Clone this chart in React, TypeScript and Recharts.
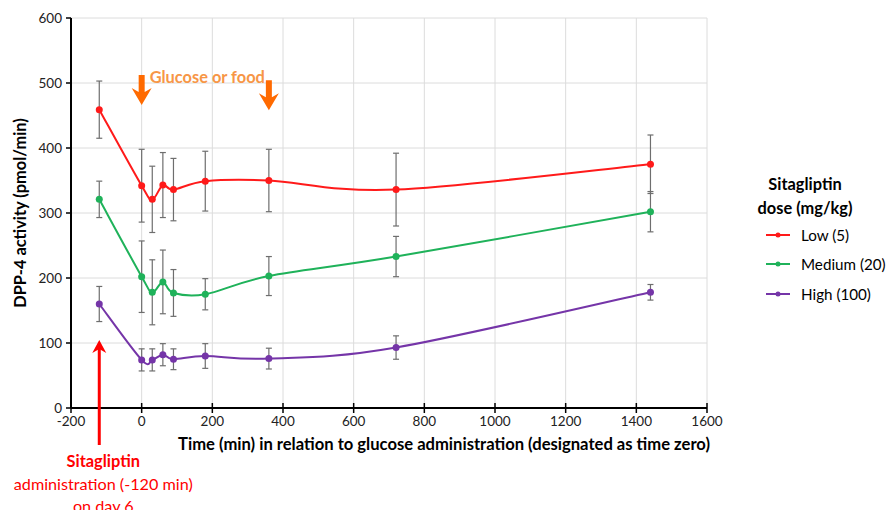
import React from 'react';
import { LineChart, Line, XAxis, YAxis, CartesianGrid, ErrorBar, ReferenceDot } from 'recharts';

// sampling times (min) relative to glucose administration
const times = [-120, 0, 30, 60, 90, 180, 360, 720, 1440];

// DPP-4 activity (pmol/min), mean and SEM per dose group
const lowDose = [459, 342, 321, 343, 336, 349, 350, 336, 375];
const lowSem = [44, 56, 51, 50, 48, 46, 48, 56, 45];
const mediumDose = [321, 202, 178, 194, 177, 175, 203, 233, 302];
const mediumSem = [28, 55, 50, 49, 36, 24, 30, 31, 31];
const highDose = [160, 74, 74, 82, 75, 80, 76, 93, 178];
const highSem = [27, 17, 17, 17, 16, 19, 16, 18, 12];

const seriesNames = ['Low (5)', 'Medium (20)', 'High (100)'];
const seriesColors = ['#ff1a1a', '#1fb25a', '#7535a8'];

const xTicks = [-200, 0, 200, 400, 600, 800, 1000, 1200, 1400, 1600];
const yTicks = [0, 100, 200, 300, 400, 500, 600];

const chartData = times.map((t, i) => ({
  t,
  low: lowDose[i],
  lowErr: lowSem[i],
  medium: mediumDose[i],
  mediumErr: mediumSem[i],
  high: highDose[i],
  highErr: highSem[i],
}));

const FONT = 'Lato, "Open Sans", sans-serif';

// excel-like smoothed line (catmull-rom style bezier)
const smoothCurve = (ctx: any) => {
  let pts: number[][] = [];
  return {
    areaStart() {},
    areaEnd() {},
    lineStart() {
      pts = [];
    },
    point(x: number, y: number) {
      pts.push([+x, +y]);
    },
    lineEnd() {
      const n = pts.length;
      if (!n) return;
      ctx.moveTo(pts[0][0], pts[0][1]);
      for (let i = 0; i < n - 1; i++) {
        const p0 = pts[i - 1] || pts[i];
        const p1 = pts[i];
        const p2 = pts[i + 1];
        const p3 = pts[i + 2] || p2;
        ctx.bezierCurveTo(
          p1[0] + (p2[0] - p0[0]) / 6,
          p1[1] + (p2[1] - p0[1]) / 6,
          p2[0] - (p3[0] - p1[0]) / 6,
          p2[1] - (p3[1] - p1[1]) / 6,
          p2[0],
          p2[1]
        );
      }
    },
  };
};

const TimeTick = ({ x, y, payload }: any) => (
  <g>
    <line x1={x} x2={x} y1={y - 5} y2={y + 5} stroke="#000" strokeWidth={1.5} />
    <text x={x} y={y + 18} textAnchor="middle" fontSize={13.5} fill="#222" fontFamily={FONT}>
      {payload.value}
    </text>
  </g>
);

const GlucoseArrow = ({ cx, cy, withLabel }: any) => {
  const head = cy - 17;
  return (
    <g>
      <path
        d={`M${cx - 3},${cy - 30} L${cx + 3},${cy - 30} L${cx + 3},${head + 4} L${cx + 10},${head} L${cx},${cy} L${cx - 10},${head} L${cx - 3},${head + 4} Z`}
        fill="#ff6a00"
      />
      {withLabel && (
        <text x={cx + 8} y={cy - 22} fontSize={16.4} fontWeight="bold" fill="#f79646" fontFamily={FONT}>
          Glucose or food
        </text>
      )}
    </g>
  );
};

const DosingArrow = ({ cx, cy }: any) => (
  <g>
    <line x1={cx} x2={cx} y1={cy + 6} y2={cy + 102} stroke="#ff0000" strokeWidth={3} />
    <path d={`M${cx - 7},${cy + 10} L${cx},${cy - 3} L${cx + 7},${cy + 10} L${cx},${cy + 6} Z`} fill="#ff0000" />
    <text x={cx + 4} y={cy + 124} textAnchor="middle" fontSize={16.4} fontWeight="bold" fill="#ff0000" fontFamily={FONT}>
      Sitagliptin
    </text>
    <text x={cx + 4} y={cy + 147} textAnchor="middle" fontSize={16.2} fill="#ff0000" fontFamily={FONT}>
      administration (-120 min)
    </text>
    <text x={cx + 4} y={cy + 169} textAnchor="middle" fontSize={16.2} fill="#ff0000" fontFamily={FONT}>
      on day 6
    </text>
  </g>
);

export default function App() {
  const keys = ['low', 'medium', 'high'];
  return (
    <div style={{ position: 'absolute', left: 0, top: 0, width: 887, height: 510, background: '#fff', fontFamily: FONT }}>
      <LineChart width={887} height={510} data={chartData} margin={{ top: 18, right: 180, left: 0, bottom: 0 }}>
        <CartesianGrid stroke="#dcdcdc" strokeWidth={1} />
        <XAxis
          dataKey="t"
          type="number"
          domain={[-200, 1600]}
          ticks={xTicks}
          interval={0}
          height={102}
          axisLine={{ stroke: '#000', strokeWidth: 2 }}
          tickLine={false}
          tickSize={0}
          tickMargin={0}
          tick={<TimeTick />}
          label={{
            content: ({ viewBox }: any) => (
              <text
                x={viewBox.x + viewBox.width / 2 + 55}
                y={viewBox.y + 42}
                textAnchor="middle"
                fontSize={16.6}
                fontWeight="bold"
                fill="#000"
                fontFamily={FONT}
              >
                Time (min) in relation to glucose administration (designated as time zero)
              </text>
            ),
          }}
        />
        <YAxis
          type="number"
          domain={[0, 600]}
          ticks={yTicks}
          interval={0}
          width={71}
          axisLine={{ stroke: '#000', strokeWidth: 2 }}
          tickLine={{ stroke: '#000', strokeWidth: 1.5 }}
          tickSize={5}
          tickMargin={4}
          tick={{ fontSize: 13.5, fill: '#222', fontFamily: FONT }}
          label={{
            content: ({ viewBox }: any) => {
              const lx = viewBox.x + 19;
              const ly = viewBox.y + viewBox.height / 2;
              return (
                <text
                  x={lx}
                  y={ly}
                  transform={`rotate(-90 ${lx} ${ly})`}
                  textAnchor="middle"
                  dominantBaseline="central"
                  fontSize={16.4}
                  fontWeight="bold"
                  fill="#000"
                  fontFamily={FONT}
                >
                  DPP-4 activity (pmol/min)
                </text>
              );
            },
          }}
        />
        {keys.map((k, i) => (
          <Line
            key={k}
            type={smoothCurve as any}
            dataKey={k}
            name={seriesNames[i]}
            stroke={seriesColors[i]}
            strokeWidth={2}
            dot={{ r: 3.5, fill: seriesColors[i], stroke: seriesColors[i], strokeWidth: 0 }}
            isAnimationActive={false}
          >
            <ErrorBar dataKey={`${k}Err`} direction="y" width={3} stroke="#6e6e6e" strokeWidth={1.2} isAnimationActive={false} />
          </Line>
        ))}
        <ReferenceDot x={0} y={466} ifOverflow="visible" shape={(p: any) => <GlucoseArrow {...p} withLabel />} />
        <ReferenceDot x={360} y={458} ifOverflow="visible" shape={(p: any) => <GlucoseArrow {...p} />} />
        <ReferenceDot x={-120} y={100} ifOverflow="visible" shape={(p: any) => <DosingArrow {...p} />} />
      </LineChart>
      <div style={{ position: 'absolute', left: 730, top: 172, width: 157, color: '#000' }}>
        <div style={{ width: 150, textAlign: 'center', fontWeight: 'bold', fontSize: 16.4, lineHeight: '24px' }}>
          Sitagliptin
          <br />
          dose (mg/kg)
        </div>
        {seriesNames.map((name, i) => (
          <div key={name} style={{ display: 'flex', alignItems: 'center', height: 29.5, whiteSpace: 'nowrap' }}>
            <svg width={60} height={10} style={{ flex: 'none' }}>
              <line x1={36} x2={60} y1={5} y2={5} stroke={seriesColors[i]} strokeWidth={2} />
              <circle cx={48} cy={5} r={2.5} fill={seriesColors[i]} />
            </svg>
            <span style={{ fontSize: 15.2, marginLeft: 11 }}>{name}</span>
          </div>
        ))}
      </div>
    </div>
  );
}
